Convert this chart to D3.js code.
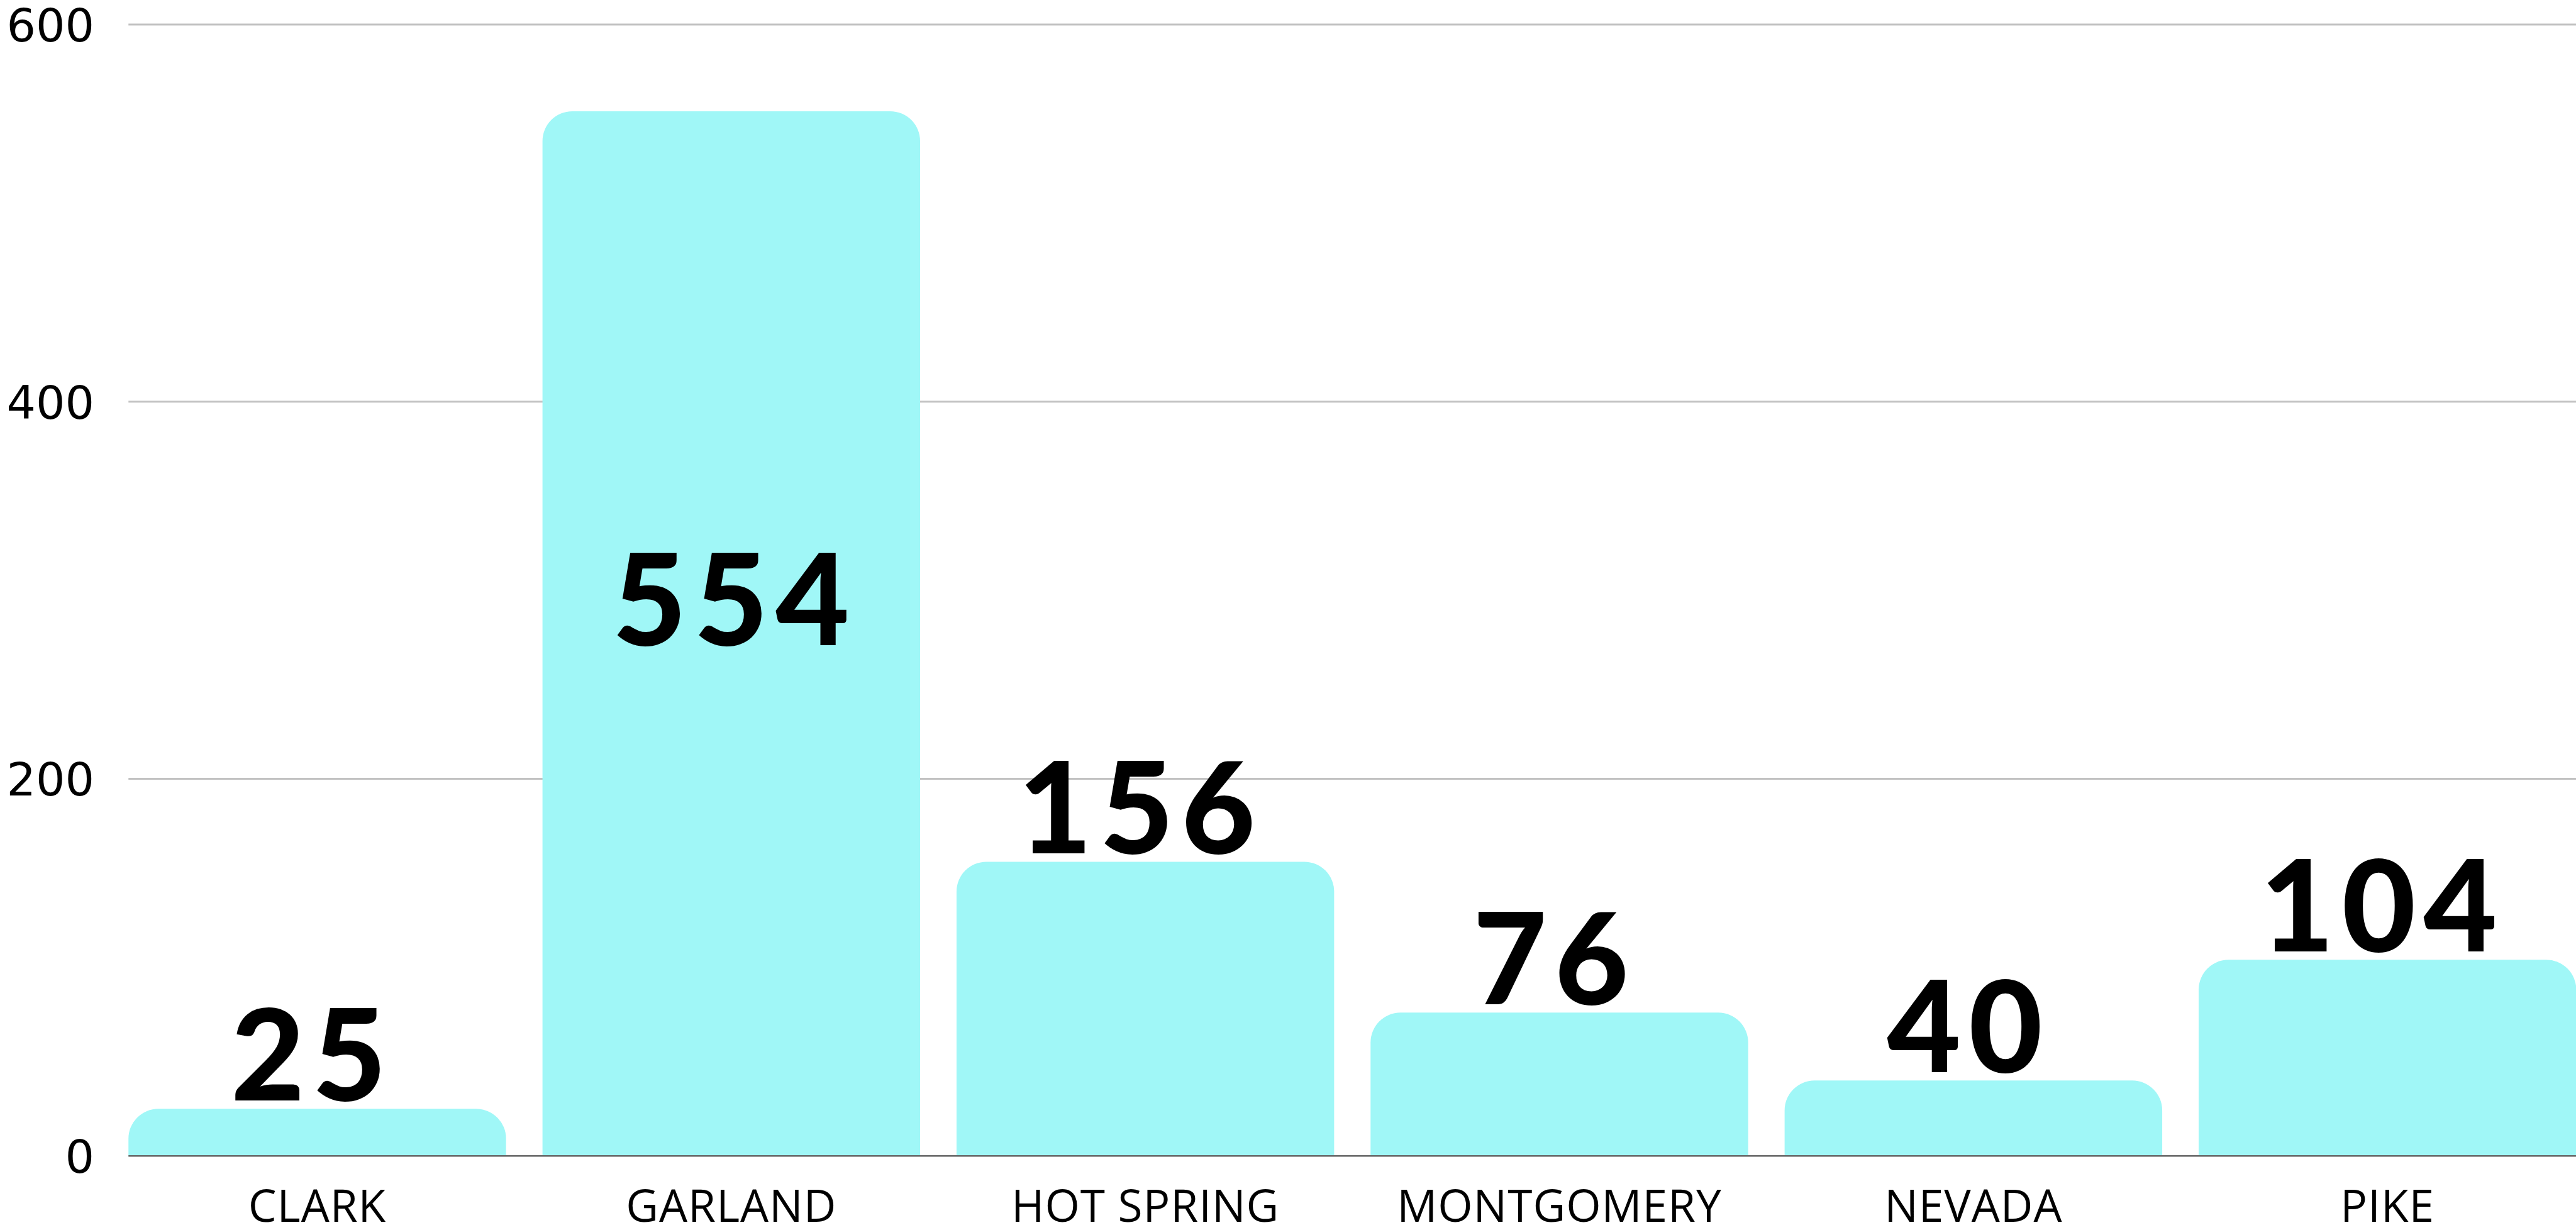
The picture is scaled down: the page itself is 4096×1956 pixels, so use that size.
<!DOCTYPE html>
<html>
<head>
<meta charset="utf-8">
<script src="https://cdn.jsdelivr.net/npm/d3@7"></script>
<style>
  html, body { margin: 0; padding: 0; background: #ffffff; overflow: hidden; }
  svg { display: block; }
</style>
</head>
<body>
<script>
// ---- data ----
const categories = ["CLARK", "GARLAND", "HOT SPRING", "MONTGOMERY", "NEVADA", "PIKE"];
const values = [25, 554, 156, 76, 40, 104];
const yTicks = [0, 200, 400, 600];
const yDomain = [0, 600];

// ---- layout (reference pixel space, drawn at 0.95) ----
const S = 0.95;
const W = 4096, H = 1956;
const plotLeft = 215, plotRightBand = 4312, plotRightGrid = 4330;
const yBottom = 1935, yTop = 41;
const radius = 50;
const barColor = "#a0f7f7";

const svg = d3.select("body").append("svg")
  .attr("width", W).attr("height", H)
  .style("background", "#ffffff");

const g = svg.append("g").attr("transform", `scale(${S})`);

const x = d3.scaleBand()
  .domain(categories)
  .range([plotLeft, plotRightBand])
  .paddingInner(0.088)
  .paddingOuter(0);

const y = d3.scaleLinear().domain(yDomain).range([yBottom, yTop]);

// gridlines (non-zero)
g.append("g").selectAll("line")
  .data(yTicks.filter(t => t !== 0))
  .join("line")
  .attr("x1", plotLeft).attr("x2", plotRightGrid)
  .attr("y1", d => y(d)).attr("y2", d => y(d))
  .attr("stroke", "#c2c2c2").attr("stroke-width", 3);

// y axis labels
const yAxis = d3.axisLeft(y).tickValues(yTicks).tickSize(0).tickPadding(0).tickFormat(d3.format("d"));
const yg = g.append("g").attr("transform", "translate(158,0)").call(yAxis);
yg.select(".domain").remove();
yg.selectAll("text")
  .attr("font-family", "'DejaVu Sans', sans-serif")
  .attr("font-size", 77)
  .attr("fill", "#000")
  .attr("dy", "0.36em");

// bars with rounded top corners
function barPath(d, i) {
  const x0 = x(categories[i]);
  const w = x.bandwidth();
  const yt = y(d);
  const yb = y(0);
  const r = Math.min(radius, (yb - yt), w / 2);
  return `M${x0},${yb} L${x0},${yt + r} A${r},${r} 0 0 1 ${x0 + r},${yt} ` +
         `L${x0 + w - r},${yt} A${r},${r} 0 0 1 ${x0 + w},${yt + r} L${x0 + w},${yb} Z`;
}
g.append("g").selectAll("path")
  .data(values)
  .join("path")
  .attr("d", barPath)
  .attr("fill", barColor);

// baseline
g.append("line")
  .attr("x1", plotLeft).attr("x2", plotRightGrid)
  .attr("y1", y(0)).attr("y2", y(0))
  .attr("stroke", "#666666").attr("stroke-width", 2.5);

// x axis labels
const xAxis = d3.axisBottom(x).tickSize(0).tickPadding(0);
const xg = g.append("g").attr("transform", `translate(0,${y(0)})`).call(xAxis);
xg.select(".domain").remove();
xg.selectAll("text")
  .attr("font-family", "'Open Sans', sans-serif")
  .attr("font-size", 75)
  .attr("letter-spacing", 1)
  .attr("fill", "#000")
  .attr("dy", null)
  .attr("y", 2045 - 1935);

// value labels
const insideThreshold = 0.8 * yDomain[1];
g.append("g").selectAll("text")
  .data(values)
  .join("text")
  .attr("x", (d, i) => x(categories[i]) + x.bandwidth() / 2 + (d > insideThreshold ? 6 : -8))
  .attr("y", d => d > insideThreshold ? y(d / 2) + 19 : y(d) - 14)
  .attr("text-anchor", "middle")
  .attr("font-family", "Lato, sans-serif")
  .attr("font-weight", 900)
  .attr("font-size", 213)
  .attr("letter-spacing", 13)
  .attr("fill", "#000")
  .text(d => d);
</script>
</body>
</html>
